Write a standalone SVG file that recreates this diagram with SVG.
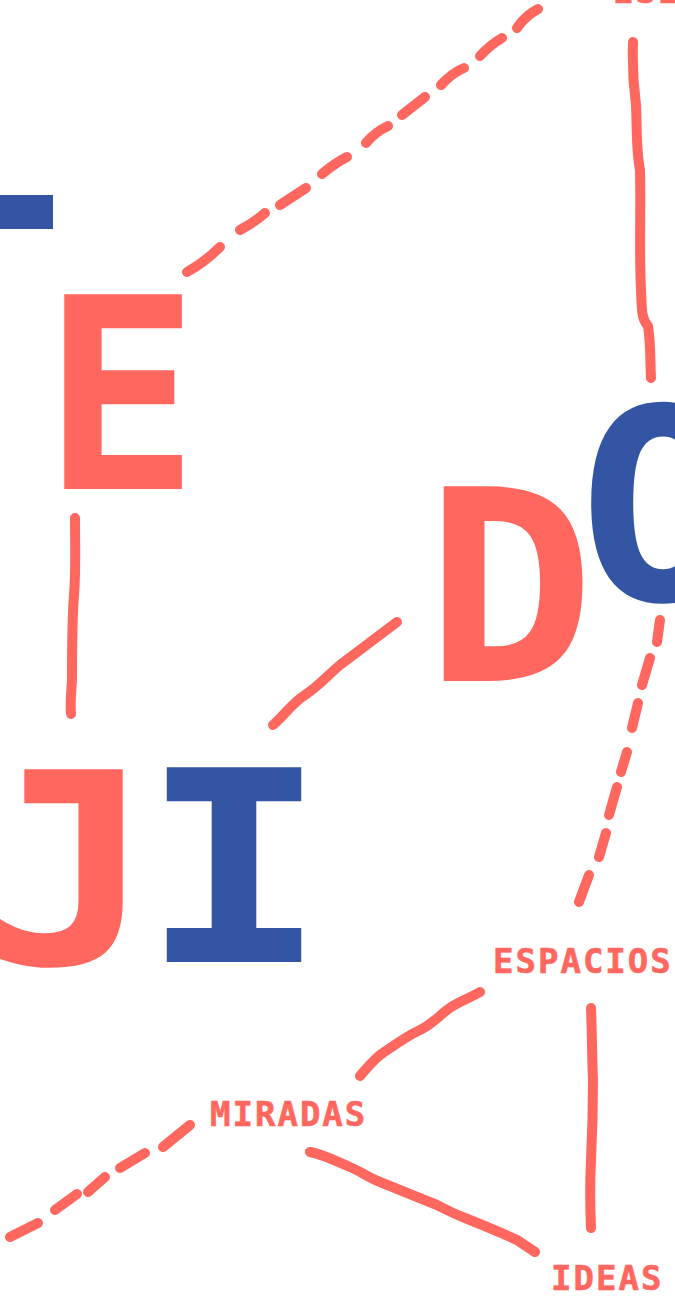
<svg xmlns="http://www.w3.org/2000/svg" width="675" height="1297" viewBox="0 0 675 1297">
<style>
.big{font-family:"DejaVu Sans Mono","Liberation Mono",monospace;font-weight:bold;font-size:267px;text-anchor:middle}
.lbl{font-family:"DejaVu Sans Mono","Liberation Mono",monospace;font-weight:bold;font-size:34px;letter-spacing:2px;fill:#FF675F;stroke:#FF675F;stroke-width:0.6}
.coral{fill:#FF675F}
.blue{fill:#3355A4}
.ln{fill:none;stroke:#FF675F;stroke-width:10;stroke-linecap:round;stroke-linejoin:round}
</style>
<rect width="675" height="1297" fill="#fff"/>
<g id="connectors">
<path class="ln" d="M187,272 Q205,262 220,247 M240,230 Q255,222 265,213 M280,205 L306,188 M322,174 Q335,163 347,157 M366,143 Q375,132 388,126 M402,115 L425,97 M441,85 Q452,73 464,68 M480,56 Q490,45 502,38 M517,28 Q525,16 538,9"/>
<path class="ln" d="M633,42 C632,70 634,90 636,105 C637,125 636,150 640,170 C641,210 639,250 641,290 C642,310 641,318 648,326 C651,345 650,360 651,378"/>
<path class="ln" d="M75,518 C75,545 76,570 74,595 C72,620 72,650 72,680 C71,695 70,705 71,714"/>
<path class="ln" d="M397,622 C380,635 360,650 340,665 C328,675 320,685 305,695 C292,703 285,715 273,725"/>
<path class="ln" d="M660,620 L657,642 M650,658 L642,685 M638,703 L632,728 M627,752 L621,772 M617,787 L609,815 M606,833 L599,857 M589,875 L579,902"/>
<path class="ln" d="M480,992 C470,998 455,1003 447,1010 C438,1017 432,1024 420,1030 C405,1037 395,1045 380,1055 C372,1062 365,1070 360,1076"/>
<path class="ln" d="M310,1152 C325,1155 338,1162 350,1167 C360,1171 367,1177 380,1182 C400,1190 420,1198 437,1205 C445,1209 450,1212 465,1218 C480,1224 500,1232 517,1240 L535,1252"/>
<path class="ln" d="M591,1008 C592,1030 592,1060 593,1080 C593,1110 592,1140 591,1160 C590,1180 590,1205 591,1228"/>
<path class="ln" d="M190,1125 L163,1147 M145,1153 L120,1168 M105,1177 L88,1192 M77,1194 L55,1210 M38,1223 L10,1237"/>
</g>
<g id="node-top-label"><text class="lbl" x="613" y="3">ESI</text></g>
<g id="node-dash"><rect class="blue" x="0" y="195" width="53" height="34"/></g>
<g id="node-E"><text class="big coral" x="121" y="489" transform="translate(121,0) scale(0.97,1) translate(-121,0)">E</text></g>
<g id="node-D"><text class="big coral" x="510" y="681" transform="translate(510,0) scale(1.06,1) translate(-510,0)">D</text></g>
<g id="node-O"><text class="big blue" x="663" y="600" transform="translate(663,0) scale(1.05,1) translate(-663,0)">O</text></g>
<g id="node-J"><text class="big coral" x="64" y="964" transform="translate(64,0) scale(1.15,1) translate(-64,0)">J</text></g>
<g id="node-I"><text class="big blue" x="234" y="962" transform="translate(234,0) scale(1.16,1) translate(-234,0)">I</text></g>
<g id="node-espacios"><text class="lbl" x="493" y="973">ESPACIOS</text></g>
<g id="node-miradas"><text class="lbl" x="210" y="1126">MIRADAS</text></g>
<g id="node-ideas"><text class="lbl" x="551" y="1290">IDEAS</text></g>
</svg>
